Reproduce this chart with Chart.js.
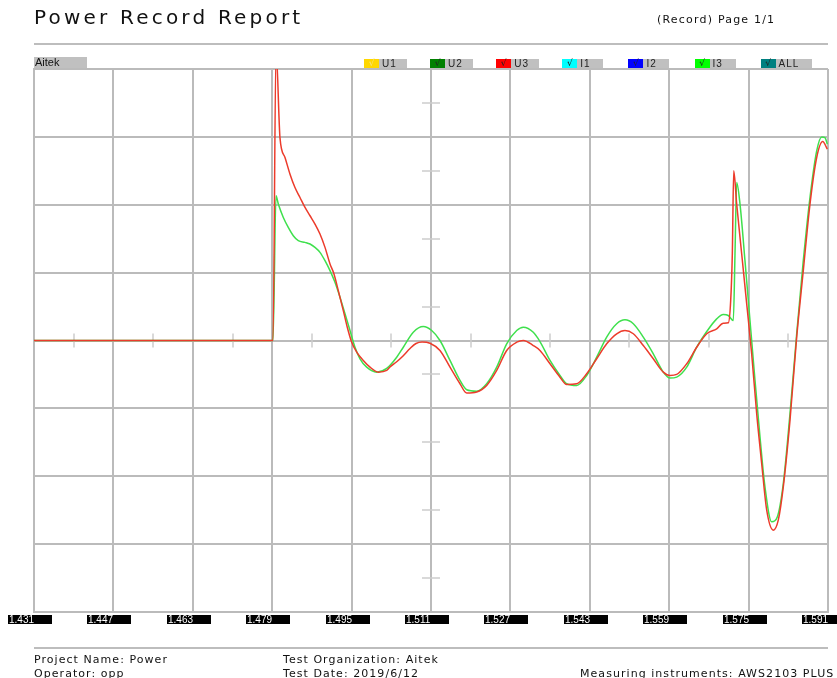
<!DOCTYPE html>
<html>
<head>
<meta charset="utf-8">
<title>Power Record Report</title>
<script src="https://cdn.jsdelivr.net/npm/chart.js@4.4.1/dist/chart.umd.min.js"></script>
<style>
  body { margin: 0; background: #fff; }
  #hoja { position: relative; width: 837px; height: 678px; overflow: hidden; font-family: "DejaVu Sans", Verdana, sans-serif; color: #111; }
  #grafico { position: absolute; left: 0; top: 0; }
  .titulo { position: absolute; left: 34px; top: 5px; font-size: 20px; letter-spacing: 3.2px; white-space: nowrap; }
  .pagina { position: absolute; left: 657px; top: 13px; font-size: 11px; letter-spacing: 1.2px; white-space: nowrap; }
  .regla { position: absolute; left: 34px; width: 794px; height: 2px; background: #bdbdbd; }
  .aitek { position: absolute; left: 34px; top: 57px; width: 52px; height: 11px; background: #c0c0c0; font: 11px "Liberation Sans", Arial, sans-serif; line-height: 11px; padding-left: 1px; }
  .item { position: absolute; top: 59px; height: 9px; }
  .item .cuadro { position: absolute; left: 0; top: 0; width: 15px; height: 9px; font: 9px "DejaVu Sans", sans-serif; line-height: 9px; text-align: center; color: #222; }
  .item .nombre { position: absolute; left: 15px; top: 0; height: 9px; background: #c0c0c0; font: 10px "Liberation Sans", Arial, sans-serif; line-height: 9px; letter-spacing: 1px; padding-left: 3px; color: #222; }
  .pie { position: absolute; font-size: 11px; white-space: nowrap; letter-spacing: 1.05px; }
</style>
</head>
<body>
<div id="hoja">
  <canvas id="grafico" width="837" height="678"></canvas>
  <div class="titulo">Power Record Report</div>
  <div class="pagina">(Record) Page 1/1</div>
  <div class="regla" style="top:43px"></div>
  <div class="aitek">Aitek</div>
  <div id="leyenda"></div>
  <div class="regla" style="top:647px"></div>
  <div class="pie" style="left:34px; top:653px">Project Name: Power</div>
  <div class="pie" style="left:34px; top:667px">Operator: opp</div>
  <div class="pie" style="left:283px; top:653px">Test Organization: Aitek</div>
  <div class="pie" style="left:283px; top:667px">Test Date: 2019/6/12</div>
  <div class="pie" style="left:580px; top:667px">Measuring instruments: AWS2103 PLUS</div>
</div>
<script>
// ejes: tiempo en segundos y amplitud en divisiones
var xTicks = [1.431, 1.447, 1.463, 1.479, 1.495, 1.511, 1.527, 1.543, 1.559, 1.575, 1.591];
var xLabels = ["1.431", "1.447", "1.463", "1.479", "1.495", "1.511", "1.527", "1.543", "1.559", "1.575", "1.591"];
var yTicks = [-4, -3, -2, -1, 0, 1, 2, 3, 4];

// canales del registrador
var canales = ["U1", "U2", "U3", "I1", "I2", "I3", "ALL"];
var coloresCanal = ["#ffd700", "#008000", "#ff0000", "#00ffff", "#0000ff", "#00ff00", "#008080"];

// U3 (rojo)
var tU3 = [1.431, 1.47916, 1.47977, 1.48057, 1.48158, 1.48259, 1.48359, 1.48460, 1.48561, 1.48662,
  1.48762, 1.48863, 1.48964, 1.49065, 1.49145, 1.49232, 1.49333, 1.49413, 1.49502, 1.49603,
  1.49736, 1.49871, 1.50038, 1.50207, 1.50274, 1.50415, 1.50536, 1.50677, 1.50798, 1.50919,
  1.51080, 1.51281, 1.51483, 1.51684, 1.51819, 1.52021, 1.52222, 1.52424, 1.52625, 1.52827,
  1.52960, 1.53161, 1.53296, 1.53498, 1.53699, 1.53834, 1.54036, 1.54237, 1.54439, 1.54640,
  1.54842, 1.55009, 1.55177, 1.55378, 1.55579, 1.55781, 1.55916, 1.56051, 1.56253, 1.56454,
  1.56656, 1.56857, 1.56990, 1.57091, 1.57139, 1.57172, 1.57200, 1.57260, 1.57361, 1.57462,
  1.57562, 1.57663, 1.57764, 1.57865, 1.57998, 1.58098, 1.58199, 1.58334, 1.58469, 1.58602,
  1.58737, 1.58872, 1.58993, 1.59086];
var vU3 = [0, 0, 4.3, 2.985, 2.696, 2.451, 2.254, 2.107, 1.96, 1.838,
  1.716, 1.569, 1.372, 1.128, 0.981, 0.735, 0.441, 0.196, -0.025, -0.172,
  -0.294, -0.393, -0.466, -0.441, -0.39, -0.309, -0.228, -0.118, -0.044, -0.022,
  -0.04, -0.147, -0.393, -0.637, -0.775, -0.76, -0.662, -0.441, -0.147, -0.025,
  0, -0.074, -0.147, -0.343, -0.54, -0.647, -0.637, -0.49, -0.269, -0.049,
  0.099, 0.147, 0.099, -0.074, -0.269, -0.466, -0.515, -0.5, -0.343, -0.099,
  0.099, 0.172, 0.254, 0.26, 0.588, 1.279, 2.5, 2.01, 1.275, 0.54,
  -0.196, -1.078, -1.813, -2.5, -2.794, -2.647, -2.157, -1.176, 0.049, 1.029,
  2.01, 2.696, 2.931, 2.819];

// I3 (verde)
var tI3 = [1.431, 1.47916, 1.47977, 1.48023, 1.48124, 1.48224, 1.48325, 1.48426, 1.48561, 1.48662,
  1.48762, 1.48863, 1.48964, 1.49065, 1.49165, 1.49266, 1.49367, 1.49468, 1.49568, 1.49669,
  1.49804, 1.50006, 1.50207, 1.50409, 1.50542, 1.50743, 1.50945, 1.51114, 1.51281, 1.51483,
  1.51684, 1.51819, 1.52021, 1.52222, 1.52424, 1.52625, 1.52827, 1.52960, 1.53161, 1.53296,
  1.53498, 1.53699, 1.53834, 1.54036, 1.54237, 1.54439, 1.54640, 1.54842, 1.55009, 1.55177,
  1.55378, 1.55579, 1.55781, 1.55916, 1.56051, 1.56253, 1.56454, 1.56656, 1.56857, 1.56990,
  1.57091, 1.57192, 1.57226, 1.57260, 1.57327, 1.57427, 1.57528, 1.57629, 1.57730, 1.57830,
  1.57965, 1.58078, 1.58199, 1.58334, 1.58469, 1.58602, 1.58737, 1.58872, 1.58973, 1.59039,
  1.59086];
var vI3 = [0, 0, 2.132, 2.01, 1.813, 1.666, 1.544, 1.471, 1.446, 1.422,
  1.372, 1.299, 1.176, 1.029, 0.857, 0.637, 0.393, 0.147, -0.099, -0.269,
  -0.393, -0.466, -0.412, -0.246, -0.099, 0.122, 0.206, 0.147, 0, -0.294,
  -0.588, -0.725, -0.746, -0.637, -0.393, -0.049, 0.147, 0.196, 0.122, -0.015,
  -0.294, -0.515, -0.637, -0.662, -0.515, -0.246, 0.049, 0.246, 0.304, 0.246,
  0.049, -0.196, -0.466, -0.554, -0.54, -0.393, -0.099, 0.132, 0.319, 0.382,
  0.368, 0.294, 1.279, 2.328, 2.01, 1.176, 0.294, -0.588, -1.422, -2.157,
  -2.672, -2.599, -2.107, -1.078, 0.099, 1.176, 2.107, 2.794, 3.0, 2.99,
  2.893];

function puntos(t, v) {     // une tiempo y valor en {x, y}
  return t.map(function (x, i) { return { x: x, y: v[i] }; });
}

// leyenda de canales arriba a la derecha
var leyenda = document.getElementById("leyenda");
canales.forEach(function (nombre, i) {
  var item = document.createElement("div");
  item.className = "item";
  item.style.left = (364 + i * 66.1) + "px";
  var marca = i === 0 ? '<span style="color:#f5e27a">√</span>' : "√";
  var ancho = nombre === "ALL" ? 33 : (nombre.charAt(0) === "U" ? 25 : 23);
  item.innerHTML = '<div class="cuadro" style="background:' + coloresCanal[i] + '">' + marca + '</div>' +
    '<div class="nombre" style="width:' + ancho + 'px">' + nombre + '</div>';
  leyenda.appendChild(item);
});

var gris = "#bbbbbb";

// marcas cortas sobre los ejes centrales
var marcasCentro = {
  id: "marcasCentro",
  beforeDatasetsDraw: function (chart) {
    var c = chart.ctx, x = chart.scales.x, y = chart.scales.y;
    var cx = x.getPixelForValue(xTicks[5]), cy = y.getPixelForValue(0);
    c.save();
    c.strokeStyle = "#cdcdcd";
    c.lineWidth = 1.5;
    for (var k = 0; k < yTicks.length - 1; k++) {
      var py = Math.round(y.getPixelForValue((yTicks[k] + yTicks[k + 1]) / 2));
      c.beginPath(); c.moveTo(cx - 9, py); c.lineTo(cx + 9, py); c.stroke();
    }
    for (var j = 0; j < xTicks.length - 1; j++) {
      var px = Math.round(x.getPixelForValue((xTicks[j] + xTicks[j + 1]) / 2));
      c.beginPath(); c.moveTo(px, cy - 7); c.lineTo(px, cy + 7); c.stroke();
    }
    c.restore();
  }
};

// etiquetas de tiempo en cajas negras bajo el eje
var etiquetasX = {
  id: "etiquetasX",
  afterDraw: function (chart) {
    var c = chart.ctx, x = chart.scales.x, area = chart.chartArea;
    c.save();
    c.font = '10px "Liberation Sans", Arial, sans-serif';
    c.textBaseline = "middle";
    xTicks.forEach(function (t, i) {
      var px = Math.round(x.getPixelForValue(t));
      c.fillStyle = "#000";
      c.fillRect(px - 26, area.bottom + 3, 44, 9);
      c.fillStyle = "#fff";
      c.fillText(xLabels[i], px - 25, area.bottom + 8);
    });
    c.restore();
  }
};

var ctx = document.getElementById("grafico");
var myChart = new Chart(ctx, {
  type: "line",
  data: {
    datasets: [{
      label: "U3",
      data: puntos(tU3, vU3),
      borderColor: "#ec3b2b",
      borderWidth: 1.5,
      pointRadius: 0,
      cubicInterpolationMode: "monotone"
    }, {
      label: "I3",
      data: puntos(tI3, vI3),
      borderColor: "#3fe04d",
      borderWidth: 1.5,
      pointRadius: 0,
      cubicInterpolationMode: "monotone"
    }]
  },
  options: {
    responsive: false,
    animation: false,
    events: [],
    layout: { padding: { left: 34, top: 69, right: 9, bottom: 66 } },
    plugins: { legend: { display: false }, tooltip: { enabled: false } },
    scales: {
      x: {
        type: "linear",
        min: xTicks[0],
        max: xTicks[xTicks.length - 1],
        afterBuildTicks: function (s) { s.ticks = xTicks.map(function (v) { return { value: v }; }); },
        ticks: { display: false },
        grid: { color: gris, lineWidth: 2, drawTicks: false },
        border: { color: gris, width: 2 }
      },
      y: {
        min: yTicks[0],
        max: yTicks[yTicks.length - 1],
        afterBuildTicks: function (s) { s.ticks = yTicks.map(function (v) { return { value: v }; }); },
        ticks: { display: false },
        grid: { color: gris, lineWidth: 2, drawTicks: false },
        border: { color: gris, width: 2 }
      }
    }
  },
  plugins: [marcasCentro, etiquetasX]
});
</script>
</body>
</html>
